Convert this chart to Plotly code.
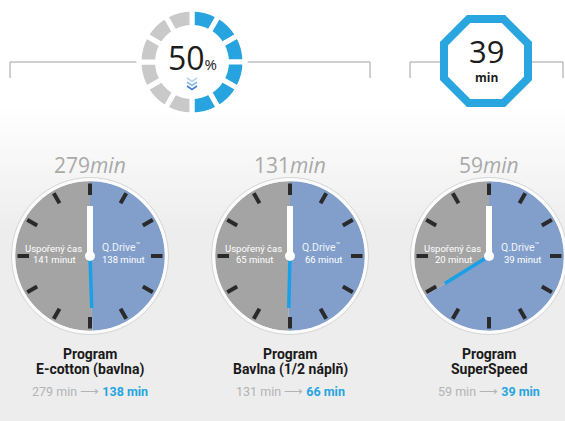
import math
import plotly.graph_objects as go

W, H = 565, 421

# ---------------- data ----------------
programs = ["E-cotton (bavlna)", "Bavlna (1/2 náplň)", "SuperSpeed"]
standard_min = [279, 131, 59]
qdrive_min = [138, 66, 39]
saved_min = [141, 65, 20]
saving_pct = 50
superspeed_min = 39
ring_segments = 12

# ---------------- layout constants ----------------
clock_cx = [90, 290, 489]
clock_cy = 256
R_FACE = 75
GRAY_FACE = "#a4a4a4"
BLUE_FACE = "#829fcc"
BLUE = "#27a4df"
TXT_GRAY = "#a9a9a9"

fig = go.Figure()
shapes = []
ann = []


def dom(cx, cy, r):
    return dict(x=[(cx - r) / W, (cx + r) / W], y=[1 - (cy + r) / H, 1 - (cy - r) / H])


# background gradient (white -> light gray)
n_bands = 40
y0, y1 = 105, 230
for i in range(n_bands):
    t = (i + 0.5) / n_bands
    c = int(round(255 - t * (255 - 237)))
    shapes.append(dict(type="rect", xref="x", yref="y", x0=0, x1=W,
                       y0=y0 + (y1 - y0) * i / n_bands, y1=y0 + (y1 - y0) * (i + 1) / n_bands + 0.5,
                       fillcolor=f"rgb({c},{c},{c})", line_width=0, layer="below"))
shapes.append(dict(type="rect", xref="x", yref="y", x0=0, x1=W, y0=y1, y1=H,
                   fillcolor="rgb(237,237,237)", line_width=0, layer="below"))

# bracket lines
LINE_Y = 62
for xa, xb in [(10, 370), (410, 563)]:
    shapes.append(dict(type="line", xref="x", yref="y", x0=xa, x1=xb, y0=LINE_Y, y1=LINE_Y,
                       line=dict(color="#a0a0a0", width=1), layer="below"))
    for xt in (xa, xb):
        shapes.append(dict(type="line", xref="x", yref="y", x0=xt, x1=xt, y0=LINE_Y, y1=LINE_Y + 16,
                           line=dict(color="#a0a0a0", width=1), layer="below"))

# 50% ring
RC_X, RC_Y = 192, 62
shapes.append(dict(type="circle", xref="x", yref="y", x0=RC_X - 52, x1=RC_X + 52,
                   y0=RC_Y - 52, y1=RC_Y + 52, fillcolor="white", line_width=0, layer="below"))
n_blue = round(ring_segments * saving_pct / 100)
ring_colors = [BLUE] * n_blue + ["#c9c9c9"] * (ring_segments - n_blue)
RR = 53
fig.add_trace(go.Pie(values=[1] * ring_segments, marker=dict(colors=ring_colors, line=dict(color="white", width=5)),
                     hole=0.65, sort=False, direction="clockwise", rotation=0, textinfo="none",
                     hoverinfo="skip", showlegend=False, domain=dom(RC_X, RC_Y, RR)))
ann.append(dict(x=RC_X, y=57, text=f"{saving_pct}<span style='font-size:15px'>%</span>",
                font=dict(size=32, color="#1c1c1c", family="Open Sans"), showarrow=False,
                xanchor="center", yanchor="middle"))
# chevrons
for k, col in enumerate(["#b9d3ee", "#8fb6e6", "#3f7fcf"]):
    yy = 78 + k * 4
    shapes.append(dict(type="path", xref="x", yref="y",
                       path=f"M {RC_X-5},{yy} L {RC_X},{yy+3.5} L {RC_X+5},{yy}",
                       line=dict(color=col, width=1.6), layer="above"))

# octagon
OC_X, OC_Y = 486, 61
Ro = 42 / math.cos(math.radians(22.5))
pts = []
for k in range(8):
    a = math.radians(22.5 + 45 * k)
    pts.append((OC_X + Ro * math.cos(a), OC_Y + Ro * math.sin(a)))
path = "M " + " L ".join(f"{px:.2f},{py:.2f}" for px, py in pts) + " Z"
shapes.append(dict(type="path", xref="x", yref="y", path=path, fillcolor="white",
                   line=dict(color="#29a6df", width=8), layer="above"))
ann.append(dict(x=OC_X, y=51, text=str(superspeed_min), font=dict(size=31, color="#1c1c1c", family="Open Sans"),
                showarrow=False, xanchor="center", yanchor="middle"))
ann.append(dict(x=OC_X, y=77, text="<b>min</b>", font=dict(size=12, color="#1c1c1c", family="Open Sans"),
                showarrow=False, xanchor="center", yanchor="middle"))

# clocks
for i, cx in enumerate(clock_cx):
    cy = clock_cy
    total = standard_min[i]
    q = qdrive_min[i]
    s = saved_min[i]
    fig.add_trace(go.Pie(values=[q, s], marker=dict(colors=[BLUE_FACE, GRAY_FACE], line=dict(width=0)),
                         sort=False, direction="clockwise", rotation=0, textinfo="none",
                         hoverinfo="skip", showlegend=False, domain=dom(cx, cy, R_FACE)))
    # rim
    shapes.append(dict(type="circle", xref="x", yref="y", x0=cx - R_FACE - 1.5, x1=cx + R_FACE + 1.5,
                       y0=cy - R_FACE - 1.5, y1=cy + R_FACE + 1.5, line=dict(color="#fbfbfb", width=3.5),
                       layer="above"))
    shapes.append(dict(type="circle", xref="x", yref="y", x0=cx - R_FACE - 3.5, x1=cx + R_FACE + 3.5,
                       y0=cy - R_FACE - 3.5, y1=cy + R_FACE + 3.5, line=dict(color="#d6d6d6", width=1),
                       layer="above"))
    # ticks
    for k in range(12):
        a = math.radians(30 * k)
        dx, dy = math.sin(a), -math.cos(a)
        shapes.append(dict(type="line", xref="x", yref="y", x0=cx + 61 * dx, y0=cy + 61 * dy,
                           x1=cx + 72.5 * dx, y1=cy + 72.5 * dy, line=dict(color="#2a2a2a", width=4),
                           layer="above"))
    # blue hand
    frac = q / (q + s)
    a = math.radians(360 * frac)
    shapes.append(dict(type="line", xref="x", yref="y", x0=cx, y0=cy,
                       x1=cx + 52 * math.sin(a), y1=cy - 52 * math.cos(a),
                       line=dict(color="#1aa0e6", width=3.5), layer="above"))
    # white hand
    shapes.append(dict(type="line", xref="x", yref="y", x0=cx, y0=cy, x1=cx, y1=cy - 50,
                       line=dict(color="white", width=6), layer="above"))
    shapes.append(dict(type="circle", xref="x", yref="y", x0=cx - 5, x1=cx + 5, y0=cy - 5, y1=cy + 5,
                       fillcolor="white", line_width=0, layer="above"))
    # face labels
    lf = dict(size=9.5, color="white", family="Roboto")
    ann.append(dict(x=cx - 37, y=cy - 8, text="Uspořený čas", font=lf, showarrow=False))
    ann.append(dict(x=cx - 36, y=cy + 3, text=f"{s} minut", font=lf, showarrow=False))
    ann.append(dict(x=cx + 31, y=cy - 9, text="Q.Drive<sup>™</sup>", font=dict(size=10.5, color="#eef3fb", family="Roboto"),
                    showarrow=False))
    ann.append(dict(x=cx + 33, y=cy + 3, text=f"{q} minut", font=lf, showarrow=False))
    # heading
    ann.append(dict(x=cx, y=165, text=f"{total}<i>min</i>", font=dict(size=21, color=TXT_GRAY, family="Open Sans"),
                    showarrow=False, xanchor="center", yanchor="middle"))
    # bottom labels
    bf = dict(size=14, color="#1a1a1a", family="Roboto")
    ann.append(dict(x=cx, y=354, text="<b>Program</b>", font=bf, showarrow=False))
    ann.append(dict(x=cx, y=369, text=f"<b>{programs[i]}</b>", font=bf, showarrow=False))
    ann.append(dict(x=cx, y=391,
                    text=f"<span style='color:#b3b3b3'>{total} min ⟶ </span><b style='color:{BLUE}'>{q} min</b>",
                    font=dict(size=12.5, color="#b3b3b3", family="Roboto"), showarrow=False))

for a_ in ann:
    a_.setdefault("xref", "x")
    a_.setdefault("yref", "y")

fig.update_layout(
    width=W, height=H, margin=dict(l=0, r=0, t=0, b=0),
    paper_bgcolor="white", plot_bgcolor="white",
    xaxis=dict(range=[0, W], visible=False, fixedrange=True),
    yaxis=dict(range=[H, 0], visible=False, fixedrange=True),
    shapes=shapes, annotations=ann, showlegend=False,
)
fig.write_html("out.html", config={"displayModeBar": False},
               post_script="document.body.style.margin='0';document.body.style.overflow='hidden';")
